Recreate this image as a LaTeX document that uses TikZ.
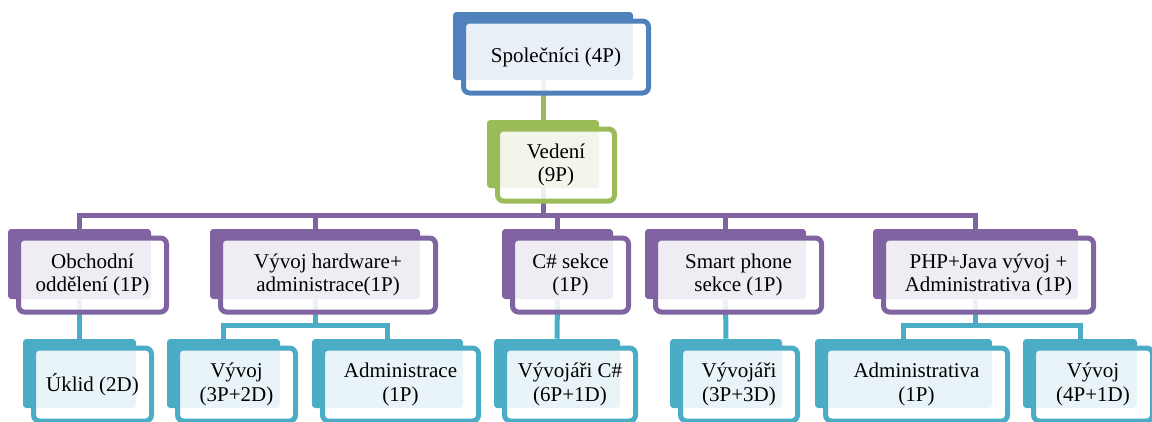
\documentclass[tikz,border=0pt]{standalone}
\usepackage{fontspec}
\setmainfont{Liberation Serif}
\definecolor{orgblue}{HTML}{4F81BD}
\definecolor{orggreen}{HTML}{9BBB59}
\definecolor{orgpurple}{HTML}{8064A2}
\definecolor{orgteal}{HTML}{4BACC6}
\tikzset{
  backbox/.style={fill=#1,rounded corners=2.5pt,inner sep=0pt},
  frontbox/.style={draw=#1,line width=3.75pt,fill=white,fill opacity=.88,text opacity=1,
    rounded corners=4.5pt,align=center,inner sep=0pt,font=\fontsize{15.75}{17.5}\selectfont},
  link/.style={draw=#1,line width=3.75pt}
}

\begin{document}
\begin{tikzpicture}[x=.75pt,y=-.75pt]
\useasboundingbox (0,0) rectangle (1152,421);
% back plates
\foreach \n/\c/\x/\y/\w/\h in {spol/orgblue/543/46/180/68,ved/orggreen/543/154/112/68,
  obch/orgpurple/79.5/264/143/70,hw/orgpurple/315/264/210/70,cs/orgpurple/557.5/264/111/70,
  smart/orgpurple/725.5/264/161/70,php/orgpurple/975.5/264/205/70,
  uklid/orgteal/79.5/373.5/113/69,vyv1/orgteal/223.5/373.5/113/69,adm1/orgteal/387.5/373.5/151/69,
  vcs/orgteal/557/373.5/126/69,vyv2/orgteal/726/373.5/112/69,adm2/orgteal/903.5/373.5/177/69,
  vyv3/orgteal/1080/373.5/114/69}
  \node[backbox=\c,minimum width=\w*.75pt,minimum height=\h*.75pt] (\n-b) at (\x,\y) {};
% connectors
\draw[link=orggreen] (spol-b.south) -- (ved-b.north);
\foreach \k in {obch,hw,cs,smart,php}
  \draw[link=orgpurple] (ved-b.south) -- ++(0,27.5) -| (\k-b.north);
\draw[link=orgteal] (obch-b.south) -- (uklid-b.north);
\foreach \k in {vyv1,adm1}
  \draw[link=orgteal] (hw-b.south) -- ++(0,26) -| (\k-b.north);
\draw[link=orgteal] (cs-b.south) -- (vcs-b.north);
\draw[link=orgteal] (smart-b.south) -- (vyv2-b.north);
\foreach \k in {adm2,vyv3}
  \draw[link=orgteal] (php-b.south) -- ++(0,26) -| (\k-b.north);
% front boxes
\foreach \n/\c/\w/\h/\t in {spol/orgblue/180/68/{Společníci (4P)},ved/orggreen/112/68/{Vedení\\(9P)},
  obch/orgpurple/143/70/{Obchodní\\oddělení (1P)},hw/orgpurple/210/70/{Vývoj hardware+\\administrace(1P)},
  cs/orgpurple/111/70/{C\# sekce\\(1P)},smart/orgpurple/161/70/{Smart phone\\sekce (1P)},
  php/orgpurple/205/70/{PHP+Java vývoj +\\Administrativa (1P)},
  uklid/orgteal/113/69/{Úklid (2D)},vyv1/orgteal/113/69/{Vývoj\\(3P+2D)},
  adm1/orgteal/151/69/{Administrace\\(1P)},vcs/orgteal/126/69/{Vývojáři C\#\\(6P+1D)},
  vyv2/orgteal/112/69/{Vývojáři\\(3P+3D)},adm2/orgteal/177/69/{Administrativa\\(1P)},
  vyv3/orgteal/114/69/{Vývoj\\(4P+1D)}}
  \node[frontbox=\c,minimum width=(\w+5)*.75pt,minimum height=(\h+4)*.75pt] (\n)
    at ([shift={(13,11)}]\n-b.center) {\t};
\end{tikzpicture}
\end{document}
